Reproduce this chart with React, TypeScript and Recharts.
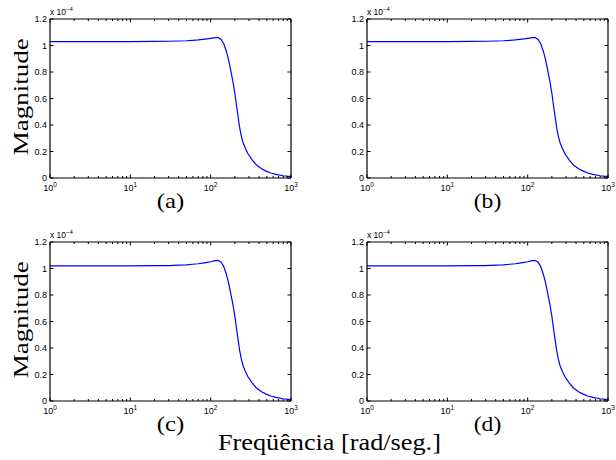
import { LineChart, Line, XAxis, YAxis } from 'recharts'

// frequency samples (rad/s), magnitudes in units of 1e-4
const freq = [1, 3, 10, 20, 30, 40, 50, 60, 70, 80, 90, 100, 110, 123, 135, 145, 157, 165, 172, 180, 189, 200, 209, 220, 229, 240, 252, 270, 290, 330, 369, 430, 491, 560, 648, 800, 1000]

const magA = [1.03, 1.03, 1.03, 1.031, 1.032, 1.034, 1.036, 1.039, 1.042, 1.046, 1.05, 1.054, 1.058, 1.061, 1.045, 1.015, 0.955, 0.905, 0.855, 0.795, 0.73, 0.64, 0.553, 0.46, 0.385, 0.32, 0.27, 0.225, 0.185, 0.135, 0.1, 0.07, 0.052, 0.038, 0.027, 0.017, 0.01]
const magB = [1.03, 1.03, 1.03, 1.031, 1.032, 1.034, 1.036, 1.039, 1.042, 1.046, 1.05, 1.054, 1.058, 1.061, 1.045, 1.015, 0.955, 0.905, 0.855, 0.795, 0.73, 0.64, 0.553, 0.46, 0.385, 0.32, 0.27, 0.225, 0.185, 0.135, 0.1, 0.07, 0.052, 0.038, 0.027, 0.017, 0.01]
const magC = [1.02, 1.02, 1.02, 1.021, 1.022, 1.025, 1.028, 1.032, 1.036, 1.041, 1.046, 1.051, 1.057, 1.062, 1.047, 1.016, 0.955, 0.905, 0.855, 0.795, 0.73, 0.64, 0.553, 0.46, 0.385, 0.32, 0.27, 0.225, 0.185, 0.135, 0.1, 0.07, 0.052, 0.038, 0.027, 0.017, 0.01]
const magD = [1.02, 1.02, 1.02, 1.021, 1.022, 1.025, 1.028, 1.032, 1.036, 1.041, 1.046, 1.051, 1.057, 1.062, 1.047, 1.016, 0.955, 0.905, 0.855, 0.795, 0.73, 0.64, 0.553, 0.46, 0.385, 0.32, 0.27, 0.225, 0.185, 0.135, 0.1, 0.07, 0.052, 0.038, 0.027, 0.017, 0.01]

const majorX = [1, 10, 100, 1000]
const xTicks = [1, 2, 3, 4, 5, 6, 7, 8, 9, 10, 20, 30, 40, 50, 60, 70, 80, 90, 100, 200, 300, 400, 500, 600, 700, 800, 900, 1000]
const yTicks = [0, 0.2, 0.4, 0.6, 0.8, 1, 1.2]

const SANS = { fontFamily: "'Liberation Sans'" }
const SERIF = { fontFamily: "'Liberation Serif'" }

const W = 300
const H = 200

const tickLen = (v: number) => (majorX.includes(v) ? 3.5 : 2)

const BottomTick = (p: any) => {
  const v = p.payload.value
  return (
    <g>
      <line x1={p.x} x2={p.x} y1={p.y} y2={p.y - tickLen(v)} stroke="#000" />
      {majorX.includes(v) && (
        <text x={p.x} y={p.y + 13} textAnchor="middle" fontSize={9} style={SANS} fill="#000">
          10<tspan dy={-4} fontSize={6.5}>{Math.round(Math.log10(v))}</tspan>
        </text>
      )}
    </g>
  )
}

const TopTick = (p: any) => (
  <line x1={p.x} x2={p.x} y1={p.y} y2={p.y + tickLen(p.payload.value)} stroke="#000" />
)

const LeftTick = (p: any) => (
  <g>
    <line x1={p.x} x2={p.x + 3.5} y1={p.y} y2={p.y} stroke="#000" />
    <text x={p.x - 3} y={p.y} dy="0.35em" textAnchor="end" fontSize={9} style={SANS} fill="#000">
      {String(p.payload.value)}
    </text>
  </g>
)

const RightTick = (p: any) => (
  <line x1={p.x} x2={p.x - 3.5} y1={p.y} y2={p.y} stroke="#000" />
)

function Panel({ mag, left, top }: { mag: number[]; left: number; top: number }) {
  const data = freq.map((f, i) => ({ f, m: mag[i] }))
  const axisLine = { stroke: '#000', strokeWidth: 1.2 }
  const xCommon = {
    dataKey: 'f',
    type: 'number' as const,
    scale: 'log' as const,
    domain: [1, 1000],
    ticks: xTicks,
    interval: 0,
    tickSize: 0,
    tickMargin: 0,
    tickLine: false,
    axisLine,
    allowDataOverflow: true,
  }
  const yCommon = {
    type: 'number' as const,
    domain: [0, 1.2],
    ticks: yTicks,
    interval: 0,
    tickSize: 0,
    tickMargin: 0,
    tickLine: false,
    axisLine,
    allowDataOverflow: true,
  }
  return (
    <div style={{ position: 'absolute', left, top, width: W, height: H }}>
      <LineChart width={W} height={H} data={data} margin={{ top: 18, right: 8, bottom: 0, left: 0 }}>
        <XAxis xAxisId="b" {...xCommon} height={22} tick={BottomTick} />
        <XAxis xAxisId="t" orientation="top" {...xCommon} height={1} tick={TopTick} />
        <YAxis yAxisId="l" {...yCommon} width={50} tick={LeftTick} />
        <YAxis yAxisId="r" orientation="right" {...yCommon} width={1} tick={RightTick} />
        {/* invisible copy so the top/right box axes get drawn */}
        <Line
          xAxisId="t"
          yAxisId="r"
          dataKey="m"
          stroke="none"
          dot={false}
          activeDot={false}
          isAnimationActive={false}
        />
        <Line
          xAxisId="b"
          yAxisId="l"
          dataKey="m"
          type="linear"
          stroke="#0000ff"
          strokeWidth={1.2}
          dot={false}
          activeDot={false}
          isAnimationActive={false}
        />
      </LineChart>
    </div>
  )
}

const panels = [
  { mag: magA, left: 0, top: 0, tag: '(a)' },
  { mag: magB, left: 317, top: 0, tag: '(b)' },
  { mag: magC, left: 0, top: 223, tag: '(c)' },
  { mag: magD, left: 317, top: 223, tag: '(d)' },
]

export default function App() {
  return (
    <div
      style={{
        position: 'absolute',
        left: 0,
        top: 0,
        width: 616,
        height: 460,
        background: '#fff',
        overflow: 'hidden',
      }}
    >
      {panels.map((p) => (
        <Panel key={p.tag} mag={p.mag} left={p.left} top={p.top} />
      ))}
      <svg width={616} height={460} style={{ position: 'absolute', left: 0, top: 0, pointerEvents: 'none' }}>
        {panels.map((p) => (
          <g key={p.tag}>
            <text x={p.left + 50} y={p.top + 15} fontSize={8.5} style={SANS} fill="#000">
              x 10<tspan dy={-4} fontSize={6}>−4</tspan>
            </text>
            <text
              x={p.left + 170.5}
              y={p.top + 207.5}
              textAnchor="middle"
              fontSize={21}
              style={SERIF}
              textLength={27.5}
              lengthAdjust="spacingAndGlyphs"
              fill="#000"
            >
              {p.tag}
            </text>
          </g>
        ))}
        {[96.7, 319.7].map((cy) => (
          <text
            key={cy}
            transform={`translate(28,${cy}) rotate(-90)`}
            textAnchor="middle"
            fontSize={22}
            style={SERIF}
            textLength={117}
            lengthAdjust="spacingAndGlyphs"
            fill="#000"
          >
            Magnitude
          </text>
        ))}
        <text
          x={329.4}
          y={450}
          textAnchor="middle"
          fontSize={24}
          style={SERIF}
          textLength={223}
          lengthAdjust="spacingAndGlyphs"
          fill="#000"
        >
          Freqüência [rad/seg.]
        </text>
      </svg>
    </div>
  )
}
